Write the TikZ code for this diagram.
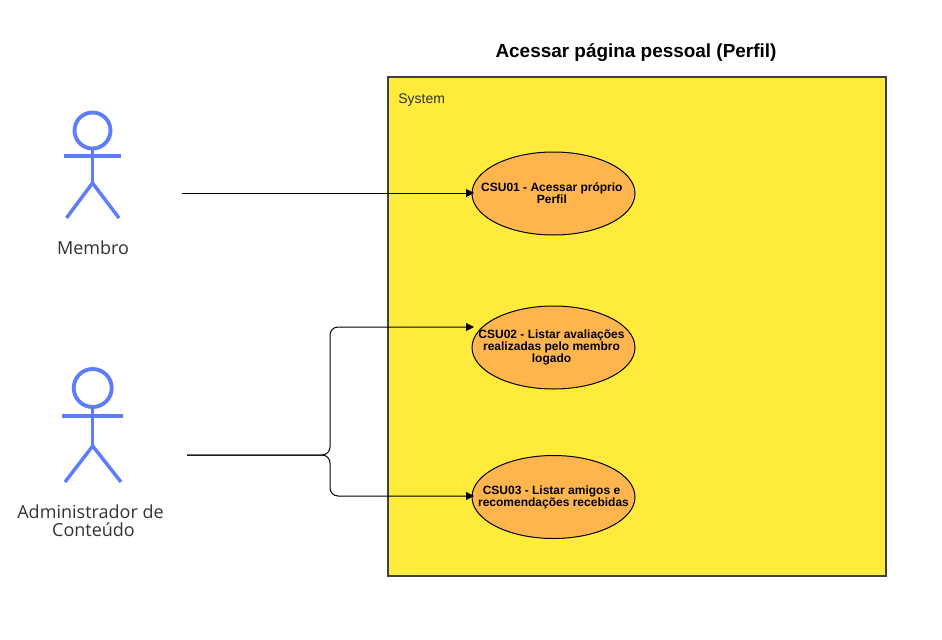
\documentclass[tikz,border=0pt]{standalone}
\usepackage{fontspec}
\setmainfont{Liberation Sans}
\newfontfamily\actorfont{Open Sans}
\usetikzlibrary{shapes.geometric,arrows.meta}
\tikzset{
  x=0.75pt,y=-0.75pt,
  actorline/.style={draw=actorblue,line width=2.6pt,line join=miter},
  actorlabel/.style={font=\actorfont\fontsize{13.5pt}{13.5pt}\selectfont,text=labelgrey,align=center,inner sep=0pt},
  usecase/.style={ellipse,draw=black,fill=caseorange,line width=0.75pt,minimum width=122.25pt,minimum height=62.25pt,inner sep=0pt},
  casetext/.style={font=\bfseries\fontsize{9pt}{9pt}\selectfont,align=center,inner sep=0pt,text=black},
  conn/.style={draw=black,line width=0.75pt,-{Triangle[length=6pt,width=6pt]}},
  connbranch/.style={conn,rounded corners=6pt},
}
\definecolor{actorblue}{HTML}{5C7EFA}
\definecolor{labelgrey}{HTML}{333333}
\definecolor{caseorange}{HTML}{FFB54D}
\definecolor{sysyellow}{HTML}{FFEB3B}
\definecolor{sysborder}{HTML}{404040}
\begin{document}
\begin{tikzpicture}
\useasboundingbox[fill=white] (0,0) rectangle (942,639);
% title and system box
\node[font=\bfseries\fontsize{14.2pt}{14.2pt}\selectfont,inner sep=0pt] (title) at (636,53) {Acessar página pessoal (Perfil)};
\node[draw=sysborder,fill=sysyellow,line width=1.5pt,minimum width=373.5pt,minimum height=374.25pt,inner sep=0pt] (system) at (637,326.5) {};
\node[font=\fontsize{10.5pt}{10.5pt}\selectfont,anchor=west,inner sep=0pt,text=labelgrey] (systemlabel) at (398,100) {System};
% use cases
\node[usecase,label={[casetext,xshift=-1.2pt]center:CSU01 - Acessar próprio\\Perfil}] (uc1) at (553.5,193.5) {};
\node[usecase,label={[casetext,xshift=-1.5pt]center:CSU02 - Listar avaliações\\realizadas pelo membro\\logado}] (uc2) at (553.5,347.5) {};
\node[usecase,label={[casetext]center:CSU03 - Listar amigos e\hspace*{3pt}\\recomendações recebidas}] (uc3) at (553.5,497) {};
% actor 1
\node[circle,draw=actorblue,line width=2.9pt,minimum size=27pt,inner sep=0pt] (head1) at (92.5,130.5) {};
\coordinate (hip1) at (92.5,183);
\coordinate (armL1) at (64,156);
\coordinate (armR1) at (121,156);
\coordinate (legL1) at (66.5,218);
\coordinate (legR1) at (119,218);
\draw[actorline] (head1.south) -- (hip1);
\draw[actorline] (armL1) -- (armR1);
\draw[actorline] (legL1) -- (hip1) -- (legR1);
\node[actorlabel] (member) at (93,248) {Membro};
% actor 2
\node[circle,draw=actorblue,line width=2.9pt,minimum size=28.5pt,inner sep=0pt] (head2) at (92.7,388) {};
\coordinate (hip2) at (92.7,446);
\coordinate (armL2) at (62,416);
\coordinate (armR2) at (123,416);
\coordinate (legL2) at (65,482);
\coordinate (legR2) at (121,482);
\draw[actorline] (head2.south) -- (hip2);
\draw[actorline] (armL2) -- (armR2);
\draw[actorline] (legL2) -- (hip2) -- (legR2);
\node[actorlabel] (admin) at (90.5,520.5) {Administrador de\\\hspace*{4.5pt}Conteúdo};
% connectors
\coordinate (from1) at (182,193);
\coordinate (from2) at (187,455);
\coordinate (split) at (330,455);
\coordinate (to1) at (474,193);
\coordinate (to2) at (474,327);
\coordinate (to3) at (474,496);
\draw[conn] (from1) -- (to1);
\draw[connbranch] (from2) -- (split) |- (to2);
\draw[connbranch] (from2) -- (split) |- (to3);
\end{tikzpicture}
\end{document}
